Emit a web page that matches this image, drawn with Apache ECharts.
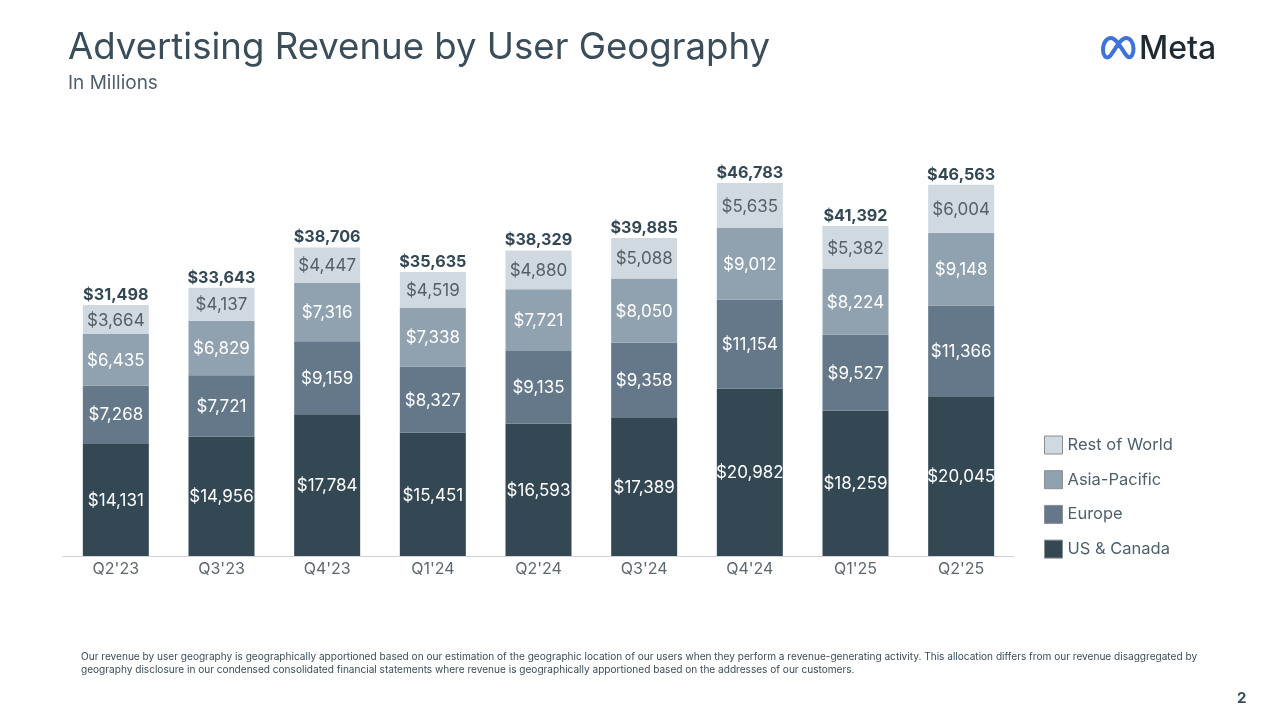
<!DOCTYPE html>
<html>
<head>
<meta charset="utf-8">
<title>Advertising Revenue by User Geography</title>
<script src="https://cdn.jsdelivr.net/npm/echarts@6/dist/echarts.min.js"></script>
<style>
  html, body { margin: 0; padding: 0; background: #fff; }
  #chart { width: 1280px; height: 724px; }
</style>
</head>
<body>
<div id="chart"></div>
<script>
const quarters = ["Q2'23", "Q3'23", "Q4'23", "Q1'24", "Q2'24", "Q3'24", "Q4'24", "Q1'25", "Q2'25"];
const usCanada = [14131, 14956, 17784, 15451, 16593, 17389, 20982, 18259, 20045];
const europe = [7268, 7721, 9159, 8327, 9135, 9358, 11154, 9527, 11366];
const asiaPacific = [6435, 6829, 7316, 7338, 7721, 8050, 9012, 8224, 9148];
const restOfWorld = [3664, 4137, 4447, 4519, 4880, 5088, 5635, 5382, 6004];
const totals = [31498, 33643, 38706, 35635, 38329, 39885, 46783, 41392, 46563];

const fontName = 'Inter, "Noto Sans", sans-serif';
const money = v => '$' + v.toLocaleString('en-US');

// the graphic component has no plain path type, so register the logo mark as a shape
echarts.graphic.registerShape('metaMark', echarts.graphic.extendPath(
    'M1103 50C1103 42 1107 38 1111 38C1117 38 1123 52 1127 56C1131 60 1133.500 54 1133.500 49C1133.500 42 1130 38 1126 38C1120 38 1114 52 1110 56C1106 60 1103 55 1103 50Z',
    {}
));

function barSeries (name, values, color, textColor) {
    return {
        name,
        type: 'bar',
        stack: 'revenue',
        data: values,
        barWidth: 66,
        itemStyle: { color },
        label: {
            show: true,
            position: 'inside',
            offset: [0, 1],
            formatter: p => money(p.value),
            color: textColor,
            fontFamily: fontName,
            fontSize: 17
        }
    };
}

const chart = echarts.init(document.getElementById('chart'));
chart.setOption({
    animation: false,
    backgroundColor: '#ffffff',
    title: [
        { text: 'Advertising Revenue by User Geography', left: 68, top: 29, padding: 0,
          textStyle: { color: '#3b4d59', fontFamily: fontName, fontSize: 36.6, fontWeight: 400 } },
        { text: 'In Millions', left: 68, top: 74, padding: 0,
          textStyle: { color: '#4f5f6a', fontFamily: fontName, fontSize: 19, fontWeight: 400 } }
    ],
    grid: { left: 63, right: 266, top: 157.4, height: 398.6 },
    xAxis: {
        type: 'category',
        data: quarters,
        axisTick: { show: false },
        axisLine: { lineStyle: { color: '#cfd3d6', width: 1 } },
        axisLabel: { color: '#5c6870', fontFamily: fontName, fontSize: 16, margin: 5 }
    },
    yAxis: { type: 'value', min: 0, max: 50000, show: false, splitLine: { show: false } },
    legend: {
        data: ['Rest of World', 'Asia-Pacific', 'Europe', 'US & Canada'],
        orient: 'vertical',
        left: 1044,
        top: 435.500,
        padding: 0,
        icon: 'rect',
        itemWidth: 18,
        itemHeight: 18,
        itemGap: 15.7,
        itemStyle: { borderColor: '#8a8f93', borderWidth: 1 },
        textStyle: { color: '#4f5f6a', fontFamily: fontName, fontSize: 16.5 },
        selectedMode: false
    },
    series: [
        barSeries('US & Canada', usCanada, '#344854', '#ffffff'),
        barSeries('Europe', europe, '#64788a', '#ffffff'),
        barSeries('Asia-Pacific', asiaPacific, '#90a1b0', '#ffffff'),
        barSeries('Rest of World', restOfWorld, '#d0d8e0', '#555f66'),
        {
            name: 'Total',
            type: 'line',
            data: totals,
            symbol: 'circle',
            symbolSize: 1,
            itemStyle: { color: 'rgba(0,0,0,0)' },
            lineStyle: { opacity: 0 },
            label: {
                show: true,
                position: 'top',
                distance: 1.5,
                formatter: p => money(p.value),
                color: '#344854',
                fontFamily: fontName,
                fontSize: 16.2,
                fontWeight: 700
            }
        }
    ],
    graphic: [
        { type: 'metaMark', silent: true,
          style: { fill: 'none', stroke: '#3f73d8', lineWidth: 4 } },
        { type: 'text', left: 1139, top: 33,
          style: { text: 'Meta', fill: '#1f2a33', font: '500 32px ' + fontName } },
        { type: 'text', left: 81, top: 650,
          style: { text: 'Our revenue by user geography is geographically apportioned based on our estimation of the geographic location of our users when they perform a revenue-generating activity. This allocation differs from our revenue disaggregated by\ngeography disclosure in our condensed consolidated financial statements where revenue is geographically apportioned based on the addresses of our customers.',
                   fill: '#3b4d59', font: '10.08px ' + fontName, lineHeight: 13 } },
        { type: 'text', left: 1237, top: 691,
          style: { text: '2', fill: '#3b4d59', font: '700 15px ' + fontName } }
    ]
});
</script>
</body>
</html>
